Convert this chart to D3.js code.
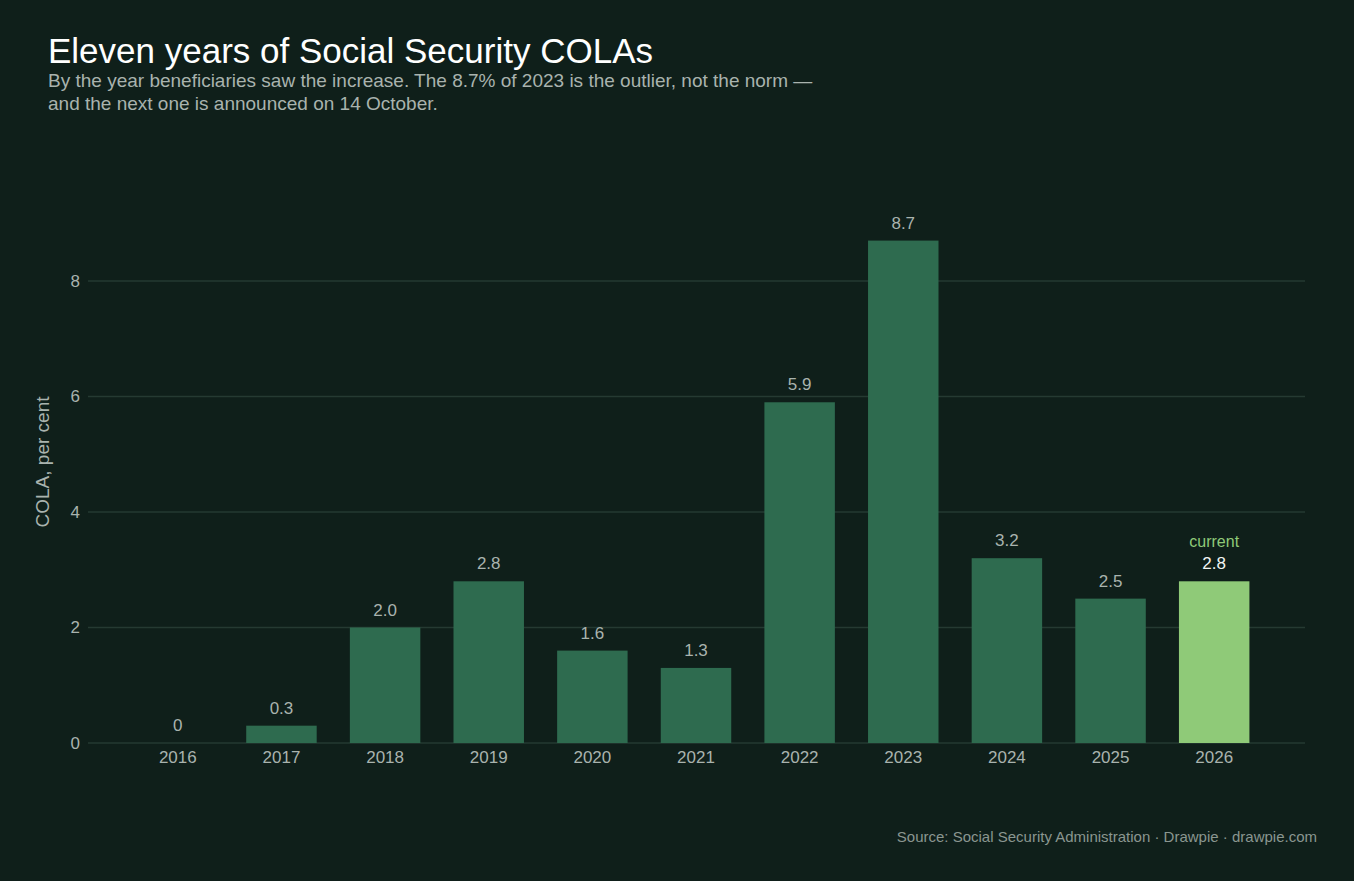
<!DOCTYPE html>
<html><head><meta charset="utf-8">
<script src="https://cdn.jsdelivr.net/npm/d3@7"></script>
<style>
body{margin:0;background:#0f1f1a;font-family:"Liberation Sans",Arial,sans-serif}
</style></head><body><div id="chart"></div>
<script>
var years = ["2016","2017","2018","2019","2020","2021","2022","2023","2024","2025","2026"]
var cola = [0,0.3,2.0,2.8,1.6,1.3,5.9,8.7,3.2,2.5,2.8]
var labels = ["0","0.3","2.0","2.8","1.6","1.3","5.9","8.7","3.2","2.5","2.8"]
var yTicks = [0,2,4,6,8]

var width = 1354, height = 881
var svg = d3.select('#chart').append('svg')
    .attr('width', width).attr('height', height)
svg.append('rect').attr('width', width).attr('height', height).attr('fill', '#0f1f1a')

var x = d3.scaleBand().domain(years).range([126, 1266]).paddingInner(0.32).paddingOuter(0.16)
var y = d3.scaleLinear().domain([0, 8]).range([743, 281])

// grid
svg.selectAll('.grid').data(yTicks).enter().append('line')
    .attr('x1', 88).attr('x2', 1305)
    .attr('y1', function(d) { return y(d) }).attr('y2', function(d) { return y(d) })
    .attr('stroke', '#253a32').attr('stroke-width', 1.5)

var yAxis = svg.append('g').attr('transform', 'translate(88,0)')
    .call(d3.axisLeft(y).tickValues(yTicks).tickSize(0).tickPadding(8))
yAxis.select('.domain').remove()
yAxis.selectAll('text').attr('fill', '#a9b3ae').style('font-size', '17px')

var xAxis = svg.append('g').attr('transform', 'translate(0,743)')
    .call(d3.axisBottom(x).tickSize(0).tickPadding(8))
xAxis.select('.domain').remove()
xAxis.selectAll('text').attr('fill', '#a9b3ae').style('font-size', '17px')

svg.selectAll('.bar').data(cola).enter().append('rect')
    .attr('x', function(d, i) { return x(years[i]) })
    .attr('width', x.bandwidth())
    .attr('y', function(d) { return y(d) })
    .attr('height', function(d) { return y(0) - y(d) })
    .attr('fill', function(d, i) { return i == years.length - 1 ? '#8fca78' : '#2e6b4f' })

svg.selectAll('.val').data(cola).enter().append('text')
    .attr('x', function(d, i) { return x(years[i]) + x.bandwidth() / 2 })
    .attr('y', function(d) { return y(d) - 12 })
    .attr('text-anchor', 'middle')
    .attr('fill', function(d, i) { return i == years.length - 1 ? '#f2f5f3' : '#a9b3ae' })
    .style('font-size', '17px')
    .text(function(d, i) { return labels[i] })

svg.append('text')
    .attr('x', x('2026') + x.bandwidth() / 2).attr('y', y(2.8) - 34)
    .attr('text-anchor', 'middle').attr('fill', '#8fca78').style('font-size', '16px')
    .text('current')

svg.append('text').attr('transform', 'translate(49,462) rotate(-90)')
    .attr('text-anchor', 'middle').attr('fill', '#a9b3ae').style('font-size', '19px')
    .text('COLA, per cent')

svg.append('text').attr('x', 48).attr('y', 63).attr('fill', '#ffffff')
    .style('font-size', '35px').text('Eleven years of Social Security COLAs')
svg.append('text').attr('x', 48).attr('y', 87).attr('fill', '#a9b3ae').style('font-size', '19px')
    .text('By the year beneficiaries saw the increase. The 8.7% of 2023 is the outlier, not the norm —')
svg.append('text').attr('x', 48).attr('y', 110).attr('fill', '#a9b3ae').style('font-size', '19px')
    .text('and the next one is announced on 14 October.')

svg.append('text').attr('x', 1317).attr('y', 842).attr('text-anchor', 'end')
    .attr('fill', '#8a9690').style('font-size', '15px')
    .text('Source: Social Security Administration  ·  Drawpie · drawpie.com')
</script></body></html>
